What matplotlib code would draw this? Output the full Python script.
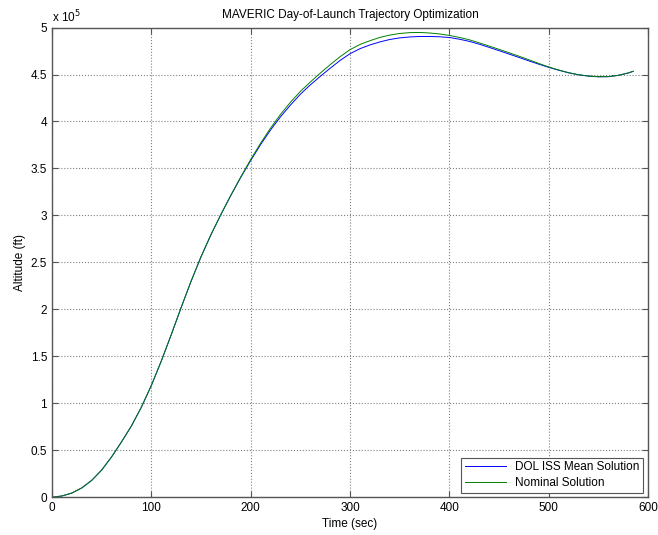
import numpy as np
import matplotlib
matplotlib.use('Agg')
import matplotlib.pyplot as plt

plt.rcParams['font.family'] = ['Liberation Sans', 'DejaVu Sans']

# time (sec) and altitude (x 1e5 ft)
time = [0, 10, 20, 30, 40, 50, 60, 70, 80, 90, 100, 110, 120, 130, 140, 150,
        160, 170, 180, 190, 200, 210, 220, 230, 240, 250, 260, 270, 280, 290,
        300, 310, 320, 330, 340, 350, 360, 370, 380, 390, 400, 410, 420, 430,
        440, 450, 460, 470, 480, 490, 500, 510, 520, 530, 540, 550, 560, 570,
        580, 585]
dol_mean = [0, 0.014, 0.045, 0.10, 0.18, 0.29, 0.43, 0.59, 0.76, 0.96, 1.19, 1.45,
            1.73, 2.02, 2.30, 2.56, 2.795, 3.01, 3.213, 3.405, 3.585, 3.755, 3.91,
            4.05, 4.175, 4.29, 4.39, 4.48, 4.567, 4.65, 4.722, 4.775, 4.815, 4.847,
            4.873, 4.89, 4.90, 4.905, 4.905, 4.902, 4.894, 4.876, 4.853, 4.823,
            4.789, 4.754, 4.718, 4.682, 4.645, 4.61, 4.576, 4.546, 4.518, 4.497,
            4.483, 4.476, 4.477, 4.491, 4.516, 4.534]
nominal = [0, 0.014, 0.045, 0.10, 0.18, 0.29, 0.43, 0.59, 0.76, 0.96, 1.19, 1.45,
           1.73, 2.02, 2.30, 2.56, 2.795, 3.01, 3.215, 3.41, 3.595, 3.77, 3.93,
           4.075, 4.205, 4.32, 4.42, 4.515, 4.605, 4.69, 4.765, 4.82, 4.86, 4.895,
           4.92, 4.937, 4.946, 4.948, 4.942, 4.932, 4.916, 4.895, 4.87, 4.837,
           4.803, 4.768, 4.732, 4.695, 4.657, 4.618, 4.58, 4.548, 4.52, 4.498,
           4.484, 4.477, 4.478, 4.492, 4.517, 4.535]

fig = plt.figure(figsize=(6.58, 5.35), dpi=100)
ax = fig.add_axes([0.079, 0.0705, 0.906, 0.878])

ax.plot(time, np.array(dol_mean) * 1e5, color='#0000ff', lw=0.7, label='DOL ISS Mean Solution')
ax.plot(time, np.array(nominal) * 1e5, color='#008000', lw=0.7, label='Nominal Solution')

ax.set_xlim(0, 600)
ax.set_ylim(0, 5e5)
ax.set_xticks(np.arange(0, 601, 100))
yt = np.arange(0, 5.01, 0.5)
ax.set_yticks(yt * 1e5)
ax.set_yticklabels(['0' if v == 0 else ('%g' % v) for v in yt])
ax.text(0.0, 1.005, r'x 10$^5$', transform=ax.transAxes, fontsize=8.5, ha='left', va='bottom')

ax.grid(True, linestyle=':', color='#808080', linewidth=0.8)
ax.tick_params(direction='in', labelsize=8.5, length=4, color='#555555',
               top=True, right=True)
for s in ax.spines.values():
    s.set_color('#555555')
    s.set_linewidth(1.0)

ax.set_title('MAVERIC Day-of-Launch Trajectory Optimization', fontsize=8.5, pad=7)
ax.set_xlabel('Time (sec)', fontsize=8.5, labelpad=3)
ax.set_ylabel('Altitude (ft)', fontsize=8.5, labelpad=3)

leg = ax.legend(loc='lower right', fontsize=8.5, fancybox=False, framealpha=1,
                edgecolor='#555555', handlelength=3.5, borderaxespad=0.4,
                borderpad=0.3, labelspacing=0.3)
leg.get_frame().set_linewidth(0.8)

fig.savefig('out.png', dpi=100)
